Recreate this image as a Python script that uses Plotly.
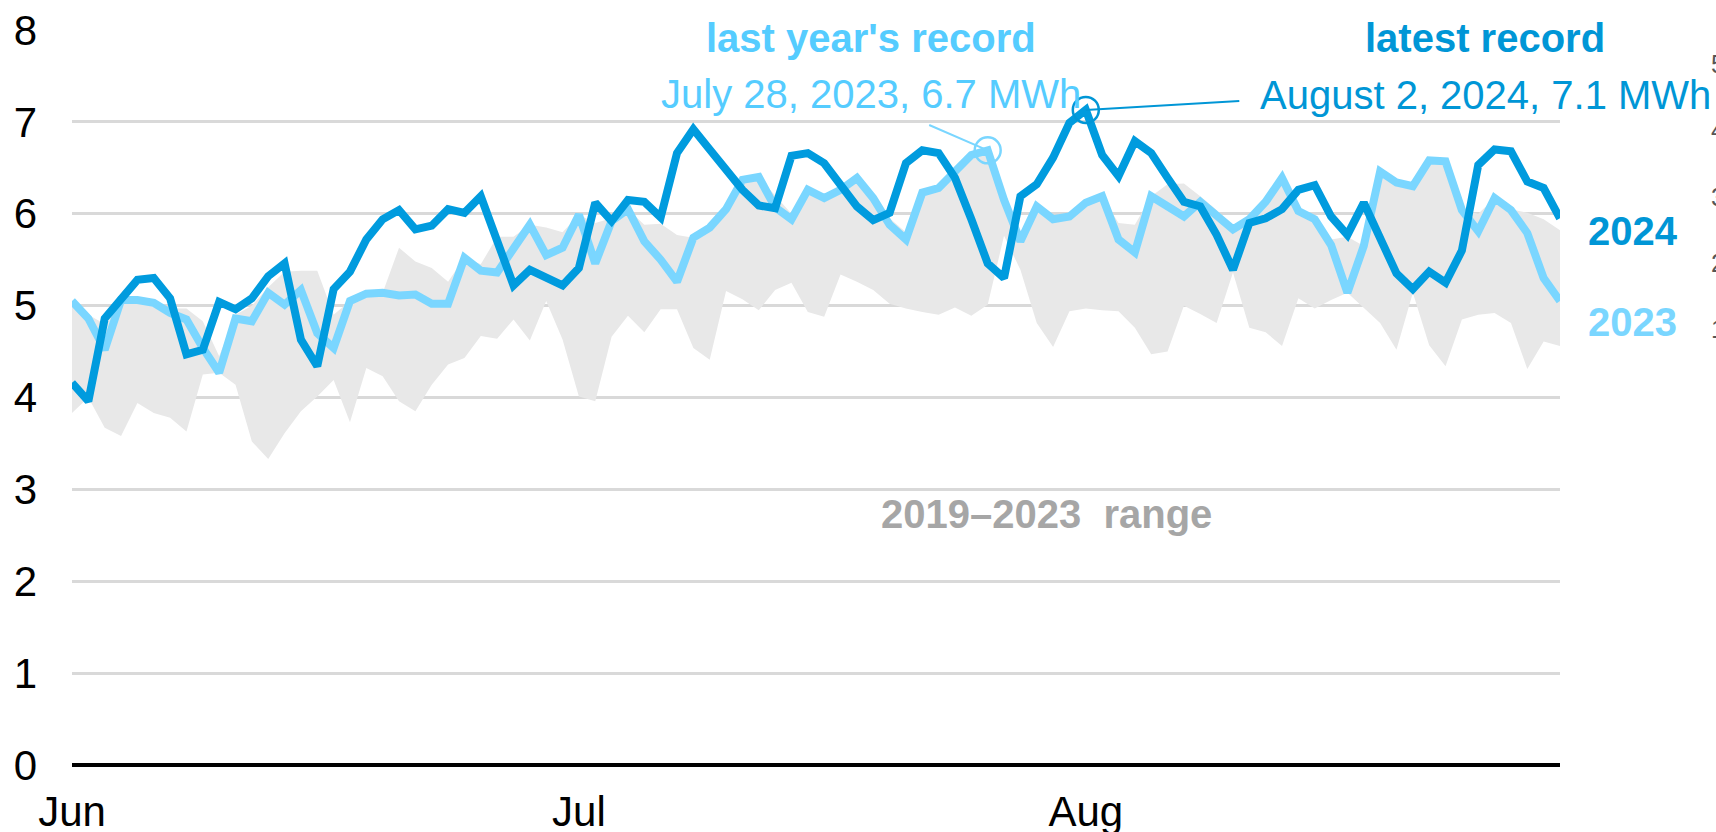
import numpy as np
import pandas as pd
import plotly.graph_objects as go

# ---------------- data ----------------
dates = pd.date_range("2024-06-01", "2024-08-31", freq="D")

y2024 = [4.16, 3.96, 4.86, 5.08, 5.28, 5.30, 5.08, 4.47, 4.52, 5.04,
         4.96, 5.08, 5.32, 5.46, 4.63, 4.34, 5.18, 5.37, 5.72, 5.94,
         6.04, 5.83, 5.87, 6.05, 6.01, 6.19, 5.68, 5.22, 5.39, 5.31,
         5.22, 5.41, 6.12, 5.92, 6.15, 6.13, 5.96, 6.66, 6.92, 6.70,
         6.48, 6.26, 6.09, 6.06, 6.63, 6.66, 6.55, 6.30, 6.08, 5.93,
         6.01, 6.55, 6.69, 6.66, 6.39, 5.94, 5.46, 5.30, 6.19, 6.32,
         6.61, 6.99, 7.13, 6.64, 6.41, 6.79, 6.66, 6.39, 6.13, 6.08,
         5.77, 5.39, 5.90, 5.95, 6.05, 6.26, 6.31, 5.97, 5.77, 6.12,
         5.74, 5.35, 5.18, 5.37, 5.25, 5.60, 6.53, 6.70, 6.68, 6.35,
         6.28, 5.95]

y2023 = [5.05, 4.86, 4.52, 5.06, 5.06, 5.03, 4.92, 4.85, 4.54, 4.27,
         4.86, 4.83, 5.14, 5.01, 5.17, 4.70, 4.54, 5.05, 5.13, 5.14,
         5.11, 5.12, 5.02, 5.02, 5.52, 5.38, 5.36, 5.63, 5.88, 5.55,
         5.63, 5.99, 5.46, 5.92, 6.05, 5.70, 5.50, 5.26, 5.74, 5.85,
         6.05, 6.37, 6.40, 6.07, 5.94, 6.26, 6.17, 6.26, 6.39, 6.17,
         5.88, 5.72, 6.23, 6.28, 6.46, 6.64, 6.69, 6.15, 5.70, 6.08,
         5.94, 5.97, 6.12, 6.19, 5.72, 5.58, 6.19, 6.08, 5.97, 6.13,
         5.99, 5.83, 5.94, 6.13, 6.39, 6.03, 5.94, 5.66, 5.14, 5.65,
         6.46, 6.34, 6.30, 6.58, 6.57, 6.04, 5.81, 6.17, 6.04, 5.79,
         5.30, 5.05]

range_low = [3.83, 4.00, 3.67, 3.58, 3.94, 3.83, 3.78, 3.63, 4.25, 4.27,
             4.14, 3.52, 3.33, 3.61, 3.85, 4.01, 4.19, 3.73, 4.32, 4.23,
             3.96, 3.85, 4.14, 4.36, 4.43, 4.67, 4.64, 4.85, 4.62, 5.05,
             4.63, 4.01, 3.96, 4.66, 4.89, 4.71, 4.96, 4.96, 4.54, 4.41,
             5.16, 5.07, 4.95, 5.17, 5.25, 4.93, 4.88, 5.34, 5.26, 5.17,
             5.02, 4.97, 4.93, 4.90, 4.98, 4.89, 5.01, 5.76, 5.39, 4.81,
             4.55, 4.94, 4.97, 4.95, 4.94, 4.76, 4.47, 4.50, 5.00, 4.91,
             4.81, 5.36, 4.76, 4.71, 4.56, 5.08, 4.97, 5.06, 5.14, 4.97,
             4.81, 4.52, 5.14, 4.57, 4.34, 4.85, 4.90, 4.92, 4.81, 4.31,
             4.61, 4.56]

range_high = [5.05, 4.90, 4.80, 5.06, 5.06, 5.03, 4.97, 4.97, 4.83, 4.45,
              4.90, 5.00, 5.20, 5.37, 5.38, 5.38, 4.90, 5.05, 5.13, 5.14,
              5.63, 5.48, 5.41, 5.26, 5.52, 5.45, 5.75, 5.75, 5.88, 5.85,
              5.80, 5.99, 5.90, 5.95, 6.05, 5.88, 5.89, 5.77, 5.74, 5.85,
              6.05, 6.37, 6.40, 6.20, 6.00, 6.26, 6.20, 6.26, 6.39, 6.20,
              5.95, 5.80, 6.23, 6.28, 6.46, 6.66, 6.69, 6.15, 5.72, 6.08,
              5.94, 5.97, 6.12, 6.19, 5.90, 5.88, 6.19, 6.32, 6.33, 6.19,
              6.04, 5.86, 5.97, 6.17, 6.39, 6.03, 5.94, 5.72, 5.75, 5.65,
              6.46, 6.34, 6.30, 6.58, 6.57, 6.04, 6.00, 6.17, 6.05, 6.01,
              5.94, 5.82]

x_tick_vals = ["2024-06-01", "2024-07-02", "2024-08-02"]
x_tick_text = ["Jun", "Jul", "Aug"]
y_tick_vals = [0, 1, 2, 3, 4, 5, 6, 7, 8]
y2_tick_vals = [1, 2, 3, 4, 5]

label_2023_record = "July 28, 2023, 6.7 MWh"
label_2024_record = "August 2, 2024, 7.1 MWh"

# ---------------- styles ----------------
FONT = "Liberation Sans, Arial, sans-serif"
C24 = "#009BDE"
C23 = "#7AD6FF"
C24_TXT = "#0096D6"
C23_TXT = "#55CCFF"
GRAY_FILL = "#E8E8E8"
GRAY_TXT = "#A6A6A6"

W, H = 1716, 832
ML, MR, MT, MB = 72, 16, 30, 67
PLOT_RIGHT = 1560
xdom_end = (PLOT_RIGHT - ML) / (W - ML - MR)


def px_x(p):
    return (p - ML) / (W - ML - MR)


def px_y(p):
    return (H - MB - p) / (H - MB - MT)


fig = go.Figure()

fig.add_trace(go.Scatter(x=dates, y=range_low, mode="lines",
                         line=dict(width=0, color=GRAY_FILL),
                         hoverinfo="skip", showlegend=False))
fig.add_trace(go.Scatter(x=dates, y=range_high, mode="lines",
                         line=dict(width=0, color=GRAY_FILL),
                         fill="tonexty", fillcolor=GRAY_FILL,
                         hoverinfo="skip", showlegend=False))
fig.add_trace(go.Scatter(x=dates, y=y2023, mode="lines",
                         line=dict(width=8, color=C23),
                         name="2023", showlegend=False))
fig.add_trace(go.Scatter(x=dates, y=y2024, mode="lines",
                         line=dict(width=8, color=C24),
                         name="2024", showlegend=False))

i23 = int(np.argmax(y2023))
i24 = int(np.argmax(y2024))

fig.add_trace(go.Scatter(x=[dates[i23]], y=[y2023[i23]], mode="markers",
                         marker=dict(symbol="circle-open", size=26, color=C23,
                                     line=dict(width=2.5, color=C23)),
                         showlegend=False, cliponaxis=False))
fig.add_trace(go.Scatter(x=[dates[i24]], y=[y2024[i24]], mode="markers",
                         marker=dict(symbol="circle-open", size=26, color=C24_TXT,
                                     line=dict(width=2.5, color=C24_TXT)),
                         showlegend=False, cliponaxis=False))

# empty trace so that the secondary (right) axis gets drawn
fig.add_trace(go.Scatter(x=[], y=[], yaxis="y2", mode="lines",
                         showlegend=False, hoverinfo="skip"))

annotations = [
    # connectors
    dict(x=dates[i23], y=y2023[i23], xref="x", yref="y", text="",
         showarrow=True, arrowhead=0, arrowwidth=2, arrowcolor=C23,
         ax=-60, ay=-26, standoff=0),
    dict(x=dates[i24], y=y2024[i24], xref="x", yref="y", text="",
         showarrow=True, arrowhead=0, arrowwidth=2, arrowcolor=C24_TXT,
         ax=155, ay=-9, standoff=0),
    # titles
    dict(x=px_x(871), y=px_y(38.5), xref="paper", yref="paper",
         text="<b>last year's record</b>", showarrow=False,
         font=dict(size=40, color=C23_TXT, family=FONT),
         xanchor="center", yanchor="middle"),
    dict(x=px_x(871), y=px_y(94), xref="paper", yref="paper",
         text=label_2023_record, showarrow=False,
         font=dict(size=40, color=C23_TXT, family=FONT),
         xanchor="center", yanchor="middle"),
    dict(x=px_x(1485), y=px_y(38.5), xref="paper", yref="paper",
         text="<b>latest record</b>", showarrow=False,
         font=dict(size=40, color=C24_TXT, family=FONT),
         xanchor="center", yanchor="middle"),
    dict(x=px_x(1485), y=px_y(95), xref="paper", yref="paper",
         text=label_2024_record, showarrow=False,
         font=dict(size=40, color=C24_TXT, family=FONT),
         xanchor="center", yanchor="middle"),
    # series labels
    dict(x=px_x(1586), y=px_y(231), xref="paper", yref="paper",
         text="<b>2024</b>", showarrow=False,
         font=dict(size=40, color=C24_TXT, family=FONT),
         xanchor="left", yanchor="middle"),
    dict(x=px_x(1586), y=px_y(322), xref="paper", yref="paper",
         text="<b>2023</b>", showarrow=False,
         font=dict(size=40, color=C23, family=FONT),
         xanchor="left", yanchor="middle"),
    dict(x=px_x(1046), y=px_y(514), xref="paper", yref="paper",
         text="<b>2019–2023&nbsp; range</b>", showarrow=False,
         font=dict(size=40, color=GRAY_TXT, family=FONT),
         xanchor="center", yanchor="middle"),
]

fig.update_layout(
    width=W, height=H,
    margin=dict(l=ML, r=MR, t=MT, b=MB, pad=0, autoexpand=False),
    paper_bgcolor="white", plot_bgcolor="white",
    font=dict(family=FONT, size=40, color="black"),
    showlegend=False,
    annotations=annotations,
    xaxis=dict(
        type="date", domain=[0, xdom_end],
        range=[dates[0], dates[-1]],
        tickvals=x_tick_vals, ticktext=x_tick_text,
        showgrid=False, zeroline=False, showline=False, ticks="",
        tickfont=dict(size=42, color="black", family=FONT),
        ticklabelstandoff=18,
    ),
    yaxis=dict(
        range=[0, 8], tickvals=y_tick_vals,
        showgrid=True, gridcolor="#D9D9D9", gridwidth=2.5,
        zeroline=True, zerolinecolor="black", zerolinewidth=3.5,
        showline=False, ticks="",
        tickfont=dict(size=42, color="black", family=FONT),
        ticklabelstandoff=34,
    ),
    yaxis2=dict(
        overlaying="y", anchor="free", position=1, side="right",
        range=[-5.57, 5.52], tickvals=y2_tick_vals,
        showgrid=False, zeroline=False, showline=False, ticks="",
        tickfont=dict(size=25, color="#555555", family=FONT),
        ticklabelstandoff=10,
    ),
)

fig.write_html(
    "out.html",
    config={"displayModeBar": False},
    post_script="document.body.style.margin='0';document.body.style.overflow='hidden';",
)
